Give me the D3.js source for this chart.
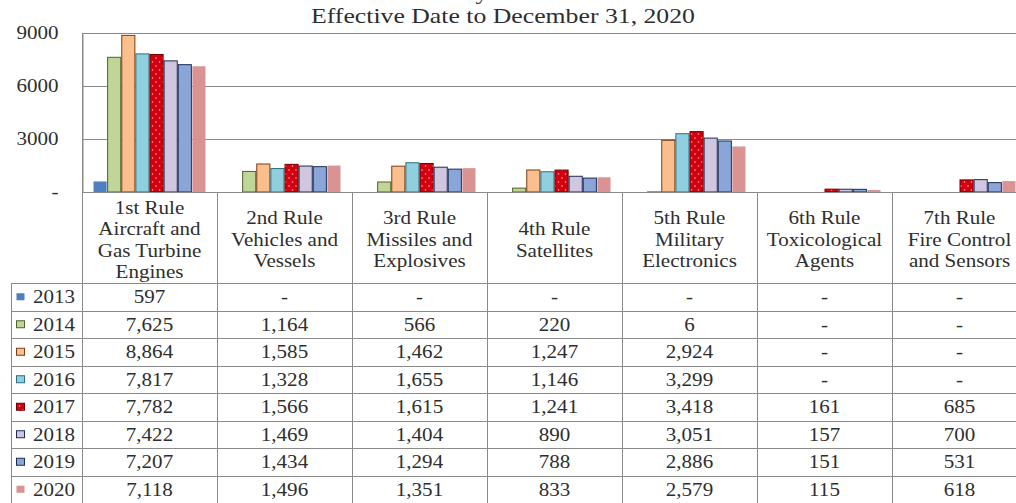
<!DOCTYPE html>
<html>
<head>
<meta charset="utf-8">
<script src="https://cdn.jsdelivr.net/npm/d3@7"></script>
<style>
  html, body { margin: 0; padding: 0; background: #fff; overflow: hidden; }
  svg { display: block; }
  text { font-family: "Liberation Serif", "Times New Roman", serif; fill: #2e2e2e; }
</style>
</head>
<body>
<svg id="chart" width="1016" height="503"></svg>
<script>
// Rule categories (header lines of the data table)
const categories = [
  ["1st Rule", "Aircraft and", "Gas Turbine", "Engines"],
  ["2nd Rule", "Vehicles and", "Vessels"],
  ["3rd Rule", "Missiles and", "Explosives"],
  ["4th Rule", "Satellites"],
  ["5th Rule", "Military", "Electronics"],
  ["6th Rule", "Toxicological", "Agents"],
  ["7th Rule", "Fire Control", "and Sensors"]
];
const years = ["2013", "2014", "2015", "2016", "2017", "2018", "2019", "2020"];

// Determinations per rule, one array per year (null = none)
const y2013 = [597, null, null, null, null, null, null];
const y2014 = [7625, 1164, 566, 220, 6, null, null];
const y2015 = [8864, 1585, 1462, 1247, 2924, null, null];
const y2016 = [7817, 1328, 1655, 1146, 3299, null, null];
const y2017 = [7782, 1566, 1615, 1241, 3418, 161, 685];
const y2018 = [7422, 1469, 1404, 890, 3051, 157, 700];
const y2019 = [7207, 1434, 1294, 788, 2886, 151, 531];
const y2020 = [7118, 1496, 1351, 833, 2579, 115, 618];
const seriesValues = [y2013, y2014, y2015, y2016, y2017, y2018, y2019, y2020];

const yTicks = [0, 3000, 6000, 9000];
const titleLines = ["by Year", "Effective Date to December 31, 2020"];

// ---- styling ----
const styles = {
  "2013": { fill: "#4f7fbf", stroke: "none" },
  "2014": { fill: "#c0d598", stroke: "#4f6228" },
  "2015": { fill: "#fbbf8e", stroke: "#7a3c12" },
  "2016": { fill: "#90d0de", stroke: "#2b6f80" },
  "2017": { fill: "url(#dots)", stroke: "#6e0000" },
  "2018": { fill: "#d0c6e0", stroke: "#1c2c55" },
  "2019": { fill: "#8aa6d8", stroke: "#1c2c55" },
  "2020": { fill: "#d99392", stroke: "none" }
};
const SX = 1.17;          // horizontal stretch of the serif type
const FS = 18;            // table / axis font size
const GRID = "#8a8a8a";

const svg = d3.select("#chart");
const defs = svg.append("defs");
const pat = defs.append("pattern").attr("id", "dots")
  .attr("patternUnits", "userSpaceOnUse").attr("width", 7).attr("height", 8);
pat.append("rect").attr("width", 7).attr("height", 8).attr("fill", "#d5000f");
pat.append("circle").attr("cx", 2).attr("cy", 2).attr("r", 0.8).attr("fill", "#ffb0b0");
pat.append("circle").attr("cx", 5.5).attr("cy", 6).attr("r", 0.8).attr("fill", "#ffb0b0");

// geometry
const plotLeft = 82, colW = 135, plotTop = 33, base = 192;
const headerBottom = 283, rowH = 27.5, legendLeft = 11;

const x0 = d3.scaleBand().domain(d3.range(categories.length))
  .range([plotLeft, plotLeft + colW * categories.length]);
const x1 = d3.scaleBand().domain(years).range([0, x0.bandwidth()]).paddingOuter(0.78);
const y = d3.scaleLinear().domain([0, 9000]).range([base, plotTop]);

// stretched text helper
function label(parent, x, yy, str, size, anchor) {
  const g = parent.append("g").attr("transform", `translate(${x},${yy}) scale(${SX},1)`);
  g.append("text").attr("text-anchor", anchor || "middle")
    .attr("dominant-baseline", "central")
    .style("font-size", size + "px").text(str);
  return g;
}

// title (first line runs off the top edge)
const tg = svg.append("g");
const t0 = tg.append("g").attr("transform", `translate(502,-1) scale(${SX},1)`);
t0.append("text").attr("text-anchor", "middle").style("font-size", "22px").text(titleLines[0]);
const t1 = tg.append("g").attr("transform", `translate(503,23) scale(${SX},1)`);
t1.append("text").attr("text-anchor", "middle").style("font-size", "22px").text(titleLines[1]);

// gridlines
svg.append("g").selectAll("line").data(yTicks.filter(d => d > 0)).join("line")
  .attr("x1", plotLeft).attr("x2", 1016)
  .attr("y1", d => Math.round(y(d)) + 0.5).attr("y2", d => Math.round(y(d)) + 0.5)
  .attr("stroke", GRID).attr("stroke-width", 1);

// y axis
const yAxis = d3.axisLeft(y).tickValues(yTicks).tickSize(0).tickPadding(0)
  .tickFormat(d => d === 0 ? "-" : String(d));
const ax = svg.append("g").attr("transform", `translate(${plotLeft + 0.5},0)`).call(yAxis);
ax.select(".domain").attr("stroke", GRID);
ax.selectAll(".tick text")
  .attr("x", -24 / SX).attr("dy", "0.32em")
  .attr("transform", `scale(${SX},1)`)
  .style("font-size", FS + "px").style("font-family", "'Liberation Serif', serif").attr("fill", "#2e2e2e");

// bars
const bars = svg.append("g");
years.forEach((yr, s) => {
  const st = styles[yr];
  bars.append("g").selectAll("rect")
    .data(seriesValues[s].map((v, i) => ({ i, v })).filter(d => d.v != null))
    .join("rect")
    .attr("x", d => x0(d.i) + x1(yr) + 0.5)
    .attr("width", x1.bandwidth() - 1)
    .attr("y", d => y(d.v))
    .attr("height", d => base - y(d.v))
    .attr("fill", st.fill)
    .attr("stroke", st.stroke)
    .attr("stroke-width", 1);
});

// ---- data table ----
const tbl = svg.append("g");
const bottom = headerBottom + rowH * years.length;
// horizontal rules
tbl.append("line").attr("x1", plotLeft).attr("x2", 1016)
  .attr("y1", base + 0.5).attr("y2", base + 0.5).attr("stroke", GRID);
d3.range(years.length + 1).forEach(r => {
  const yy = Math.round(headerBottom + r * rowH) + 0.5;
  tbl.append("line").attr("x1", legendLeft).attr("x2", 1016)
    .attr("y1", yy).attr("y2", yy).attr("stroke", GRID);
});
// vertical rules
d3.range(categories.length + 1).forEach(c => {
  const xx = Math.round(plotLeft + c * colW) + 0.5;
  tbl.append("line").attr("x1", xx).attr("x2", xx)
    .attr("y1", c === 0 ? plotTop : base).attr("y2", bottom).attr("stroke", GRID);
});
tbl.append("line").attr("x1", legendLeft + 0.5).attr("x2", legendLeft + 0.5)
  .attr("y1", headerBottom).attr("y2", bottom).attr("stroke", GRID);

// header labels
categories.forEach((lines, i) => {
  const cx = x0(i) + x0.bandwidth() / 2;
  const lh = 21.5, mid = 240;
  lines.forEach((ln, k) => {
    label(tbl, cx, mid + (k - (lines.length - 1) / 2) * lh, ln, FS);
  });
});

// rows
const fmt = d3.format(",");
years.forEach((yr, r) => {
  const cy = headerBottom + r * rowH + rowH / 2 + 0.5;
  const st = styles[yr];
  tbl.append("rect").attr("x", 16.5).attr("y", cy - 4).attr("width", 8).attr("height", 7)
    .attr("fill", st.fill).attr("stroke", st.stroke).attr("stroke-width", 1);
  label(tbl, 33, cy, yr, FS, "start");
  seriesValues[r].forEach((v, i) => {
    label(tbl, x0(i) + x0.bandwidth() / 2, cy, v == null ? "-" : fmt(v), FS);
  });
});
</script>
</body>
</html>
